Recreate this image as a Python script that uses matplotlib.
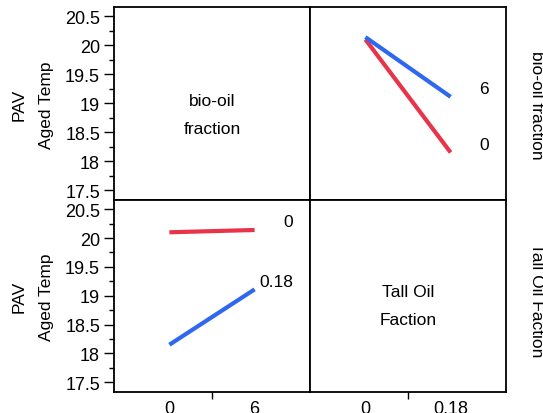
import matplotlib
matplotlib.use("Agg")
import matplotlib.pyplot as plt
import matplotlib.transforms as mtransforms
from matplotlib.ticker import MultipleLocator, FixedLocator

plt.rcParams['font.family'] = ['Liberation Sans', 'DejaVu Sans']

# Data: cell means of PAV Aged Temp
bio_levels = ["0", "6"]          # bio-oil fraction
tall_levels = ["0", "0.18"]      # tall oil fraction
mean_bio0 = [20.10, 18.15]       # bio-oil 0 at tall 0, 0.18
mean_bio6 = [20.14, 19.11]       # bio-oil 6 at tall 0, 0.18
mean_tall0 = [mean_bio0[0], mean_bio6[0]]    # tall 0 at bio 0, 6
mean_tall18 = [mean_bio0[1], mean_bio6[1]]   # tall 0.18 at bio 0, 6

y_ticks = [17.5, 18, 18.5, 19, 19.5, 20, 20.5]
y_tick_labels = ["17.5", "18", "18.5", "19", "19.5", "20", "20.5"]

RED = "#e8334a"
BLUE = "#2e68f0"

W, H = 543, 414
fig = plt.figure(figsize=(W / 100, H / 100), dpi=100)

L, M, R = 114 / W, 310 / W, 506 / W
T, MY, B = 1 - 8 / H, 1 - 201 / H, 1 - 393 / H

ax_tl = fig.add_axes([L, MY, M - L, T - MY])
ax_tr = fig.add_axes([M, MY, R - M, T - MY])
ax_bl = fig.add_axes([L, B, M - L, MY - B])
ax_br = fig.add_axes([M, B, R - M, MY - B])

xlim = (0.35, 2.65)
ylim = (17.33, 20.66)
for ax in (ax_tl, ax_tr, ax_bl, ax_br):
    ax.set_xlim(*xlim)
    ax.set_ylim(*ylim)
    for s in ax.spines.values():
        s.set_linewidth(1.3)
    ax.set_xticks([])
    ax.set_yticks([])

x = [1, 2]
lw = 3.0
ax_tr.plot(x, mean_bio0, color=RED, lw=lw, solid_capstyle='butt')
ax_tr.plot(x, mean_bio6, color=BLUE, lw=lw, solid_capstyle='butt')
ax_bl.plot(x, mean_tall0, color=RED, lw=lw, solid_capstyle='butt')
ax_bl.plot(x, mean_tall18, color=BLUE, lw=lw, solid_capstyle='butt')

fs = 12.5
tfs = 13
def end_label(ax, yval, text):
    tr = mtransforms.blended_transform_factory(ax.transAxes, ax.transData)
    ax.text(0.913, yval + 0.14, text, transform=tr, ha='right', va='center', fontsize=fs)

end_label(ax_tr, mean_bio6[1], bio_levels[1])
end_label(ax_tr, mean_bio0[1], bio_levels[0])
end_label(ax_bl, mean_tall0[1], tall_levels[0])
end_label(ax_bl, mean_tall18[1], tall_levels[1])

# diagonal labels (baselines in pixel rows)
def fig_text_px(xp, yp, s, **kw):
    fig.text(xp / W, 1 - yp / H, s, fontsize=fs, **kw)

fig_text_px(212, 106, "bio-oil", ha='center', va='baseline')
fig_text_px(212, 134, "fraction", ha='center', va='baseline')
fig_text_px(408, 297, "Tall Oil", ha='center', va='baseline')
fig_text_px(408, 325, "Faction", ha='center', va='baseline')

# y axes on left panels
for ax in (ax_tl, ax_bl):
    ax.yaxis.set_major_locator(FixedLocator(y_ticks))
    ax.set_yticklabels(y_tick_labels)
    ax.yaxis.set_minor_locator(MultipleLocator(0.25))
    ax.tick_params(axis='y', which='major', length=7, width=1, direction='out', labelsize=tfs, pad=3)
    ax.tick_params(axis='y', which='minor', length=3.5, width=1, direction='out')

# y-axis titles
for yc in (105, 297):
    fig_text_px(19, yc, "PAV", rotation=90, ha='center', va='center')
    fig_text_px(47, yc, "Aged Temp", rotation=90, ha='center', va='center')

# x axes on bottom panels
ax_bl.set_xticks([1, 2])
ax_bl.set_xticklabels(bio_levels)
ax_br.set_xticks([1, 2])
ax_br.set_xticklabels(tall_levels)
for ax in (ax_bl, ax_br):
    ax.xaxis.set_minor_locator(FixedLocator([1.5]))
    ax.tick_params(axis='x', which='major', length=0, labelsize=tfs, pad=5.5)
    ax.tick_params(axis='x', which='minor', length=5, width=1, direction='out')

# right-side labels
fig_text_px(536, 105, "bio-oil fraction", rotation=-90, ha='center', va='center')
fig_text_px(537, 300, "Tall Oil Faction", rotation=-90, ha='center', va='center')

fig.savefig("out.png", dpi=100)
